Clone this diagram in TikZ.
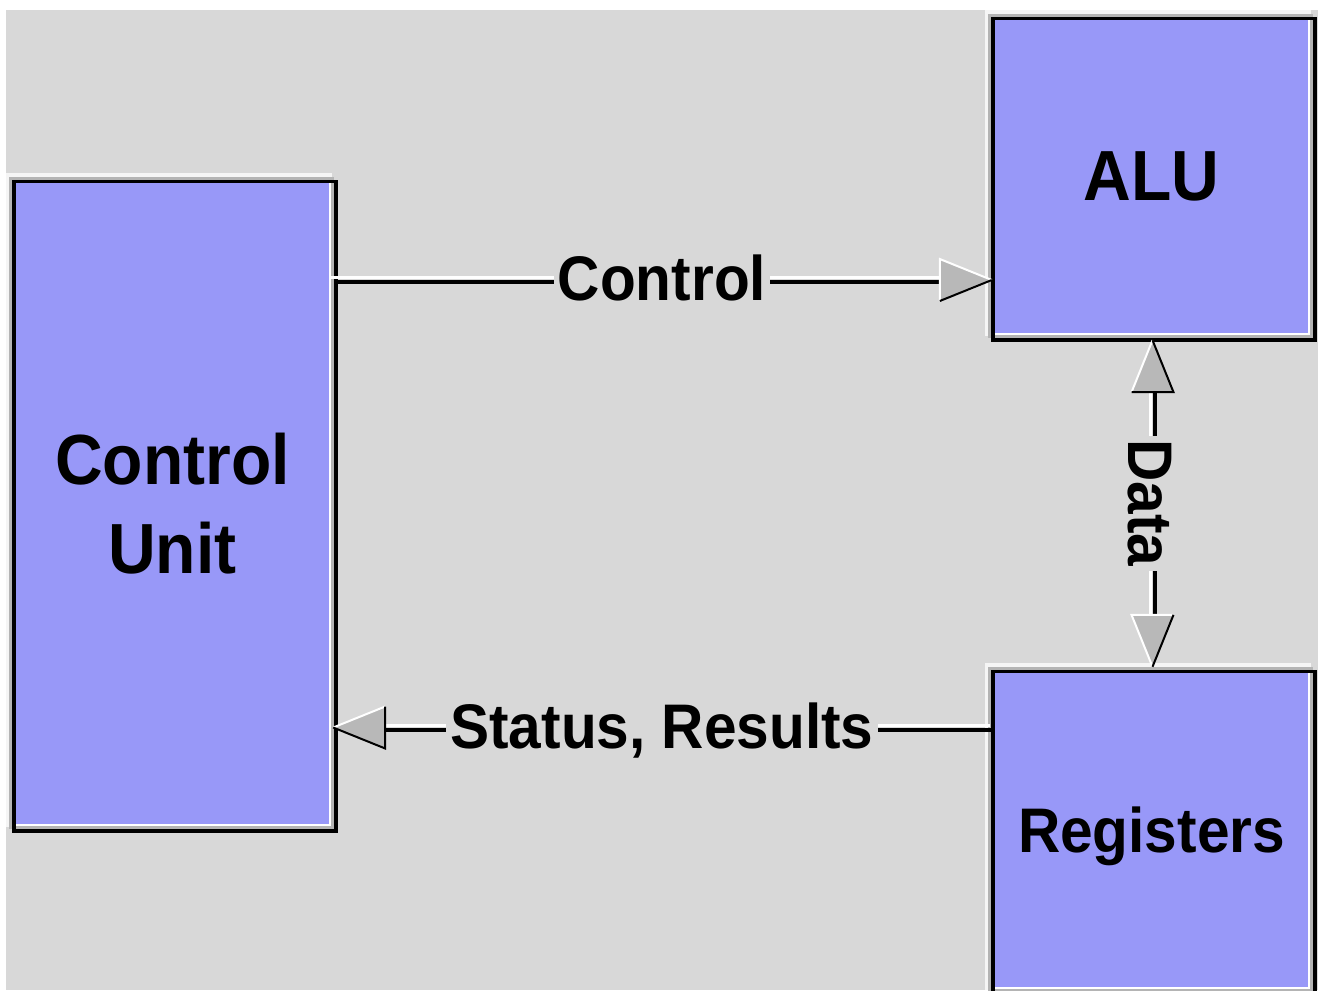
\documentclass[tikz,border=0pt]{standalone}
\usepackage{fontspec}
\setmainfont{Liberation Sans}[FakeStretch=0.93]
\usetikzlibrary{calc,backgrounds}

\definecolor{bggrey}{RGB}{216,216,216}
\definecolor{boxblue}{RGB}{152,152,248}
\definecolor{rimlight}{RGB}{245,245,245}
\definecolor{rimgrey}{RGB}{180,180,180}
\definecolor{headgrey}{RGB}{184,184,184}

% raised bevel round a block: light/grey rim outside, black border,
% white and grey inner edge on the right and bottom
\newcommand\bevelframe[1]{%
  \fill[rimlight] ($(#1.north west)+(-10,-10)$) rectangle ($(#1.south east)+(3,3)$);
  \fill[rimgrey]  ($(#1.north west)+(-7,-6)$)   rectangle ($(#1.south east)+(5,5)$);
  \fill[black]    ($(#1.north west)+(-4,-3)$)   rectangle ($(#1.south east)+(9,9)$);
  \fill[rimgrey]  (#1.north west) rectangle ($(#1.south east)+(5,5)$);
  \fill[white]    (#1.north west) rectangle ($(#1.south east)+(2,2)$);
}

\tikzset{
  blockbox/.style={rectangle, fill=boxblue, inner sep=0pt, align=center,
    font=\fontsize{71}{89}\selectfont\bfseries},
  wire/.style={black, line width=4pt},
  glint/.style={white, line width=3pt},
  lbl/.style={fill=bggrey, inner xsep=4pt, inner ysep=0pt,
    font=\fontsize{63}{70}\selectfont\bfseries, text height=45pt, text depth=0pt},
  headfill/.style={fill=headgrey},
  headlit/.style={draw=white, line width=2pt},
  headdark/.style={draw=black, line width=2pt},
}

\begin{document}
\begin{tikzpicture}[x=1pt, y=-1pt]
\useasboundingbox (0,0) rectangle (1321,990);

% blocks
\node[blockbox, minimum width=313pt, minimum height=641pt] (cu) at (172.5,503.5) {Control\\Unit};
\node[blockbox, minimum width=313pt, minimum height=313pt] (alu) at (1151.5,176.5) {ALU};
\node[blockbox, minimum width=313pt, minimum height=314pt, text depth=0pt,
      font=\fontsize{63}{70}\selectfont\bfseries] (reg) at (1151.5,830) {Registers};

\begin{scope}[on background layer]
  \fill[white] (0,0) rectangle (1321,990);
  \fill[bggrey] (6,10) rectangle (1318,990);
  \bevelframe{cu}
  \bevelframe{alu}
  \bevelframe{reg}
\end{scope}

% Control: control unit -> ALU
\draw[glint, shorten <=2pt, shorten >=55pt] (cu.east |- 0,277) -- (alu.west |- 0,277);
\draw[wire, shorten <=6pt, shorten >=55pt] (cu.east |- 0,282) -- (alu.west |- 0,282);
\coordinate (tipC) at ($(alu.west |- 0,280)+(-3,0)$);
\fill[headfill] (tipC) -- ++(-52,-21) -- ++(0,42) -- cycle;
\draw[headlit] (tipC) -- ++(-52,-21) -- ++(0,42);
\draw[headdark] (tipC) -- ++(-52,21);
\path (cu.east |- 0,278) -- (alu.west |- 0,278) node[lbl, midway] (ctllbl) {Control};

% Status, Results: registers -> control unit
\draw[glint, shorten <=5pt, shorten >=56pt] (reg.west |- 0,725) -- (cu.east |- 0,725);
\draw[wire, shorten <=3pt, shorten >=56pt] (reg.west |- 0,730) -- (cu.east |- 0,730);
\coordinate (tipS) at ($(cu.east |- 0,727.5)+(4,0)$);
\fill[headfill] (tipS) -- ++(52,-21) -- ++(0,42) -- cycle;
\draw[headlit] (tipS) -- ++(52,-21);
\draw[headdark] (tipS) ++(52,-21) -- ++(0,42) -- (tipS);
\path (reg.west |- 0,725.5) -- (cu.east |- 0,725.5) node[lbl, midway] (stlbl) {Status, Results};

% Data: ALU <-> registers
\draw[glint, shorten <=58pt, shorten >=57pt] ($(alu.south)+(-1.5,0)$) -- ($(reg.north)+(-1.5,0)$);
\draw[wire, shorten <=58pt, shorten >=57pt] ($(alu.south)+(3.5,0)$) -- ($(reg.north)+(3.5,0)$);
\coordinate (tipU) at ($(alu.south)+(1,7)$);
\fill[headfill] (tipU) -- ++(-21,52) -- ++(42,0) -- cycle;
\draw[headlit] (tipU) -- ++(-21,52);
\draw[headdark] (tipU) ++(-21,52) -- ++(42,0) -- (tipU);
\coordinate (tipD) at ($(reg.north)+(1,-6)$);
\fill[headfill] (tipD) -- ++(-21,-52) -- ++(42,0) -- cycle;
\draw[headlit] (tipD) -- ++(-21,-52) -- ++(42,0);
\draw[headdark] (tipD) -- ++(21,-52);
\path ($(alu.south)+(-1,0)$) -- ($(reg.north)+(-1,0)$) node[lbl, midway, rotate=-90] (datalbl) {Data};
\end{tikzpicture}
\end{document}
